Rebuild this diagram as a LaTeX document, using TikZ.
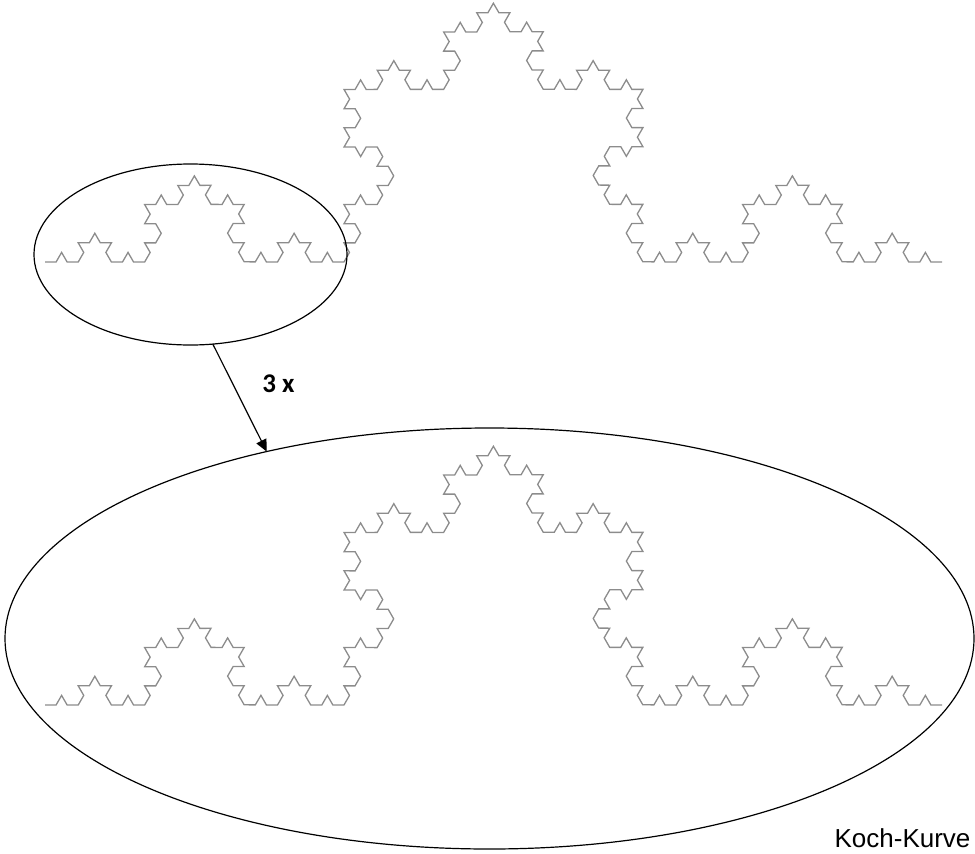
\documentclass[tikz,border=0pt]{standalone}
\usepackage{fontspec}
\setmainfont{Liberation Sans}
\newfontfamily\labelfont{Carlito}
\usetikzlibrary{arrows.meta,decorations.fractals,shapes.geometric}
\tikzset{
  koch/.style={draw=black!45,line width=1.3pt,decoration=Koch snowflake},
  lens/.style={ellipse,draw,line width=1.2pt,inner sep=0pt,outer sep=0pt},
}
\begin{document}
\begin{tikzpicture}[x=1pt,y=-1pt]
  \useasboundingbox (0,0) rectangle (975,854);
  % Koch curve (level 4) and its first third, enlarged 3x
  \draw[koch] decorate{decorate{decorate{decorate{(45,262) -- (942,262)}}}};
  \draw[koch] decorate{decorate{decorate{decorate{(45,705) -- (942,705)}}}};
  % the two ellipses
  \node[lens,minimum width=313pt,minimum height=181pt] (small) at (190.5,254.5) {};
  \node[lens,minimum width=969pt,minimum height=421pt] (big) at (489.5,638.5) {};
  \draw[-{Triangle[length=12pt,width=11pt]},line width=1.2pt] (small.-76) -- (big.140.4);
  \node[font=\labelfont\bfseries\fontsize{27}{32}\selectfont] (factor) at (278.5,384) {3 x};
  \node[anchor=base,font=\fontsize{26}{31}\selectfont] (title) at (902.5,847) {Koch-Kurve};
\end{tikzpicture}
\end{document}
